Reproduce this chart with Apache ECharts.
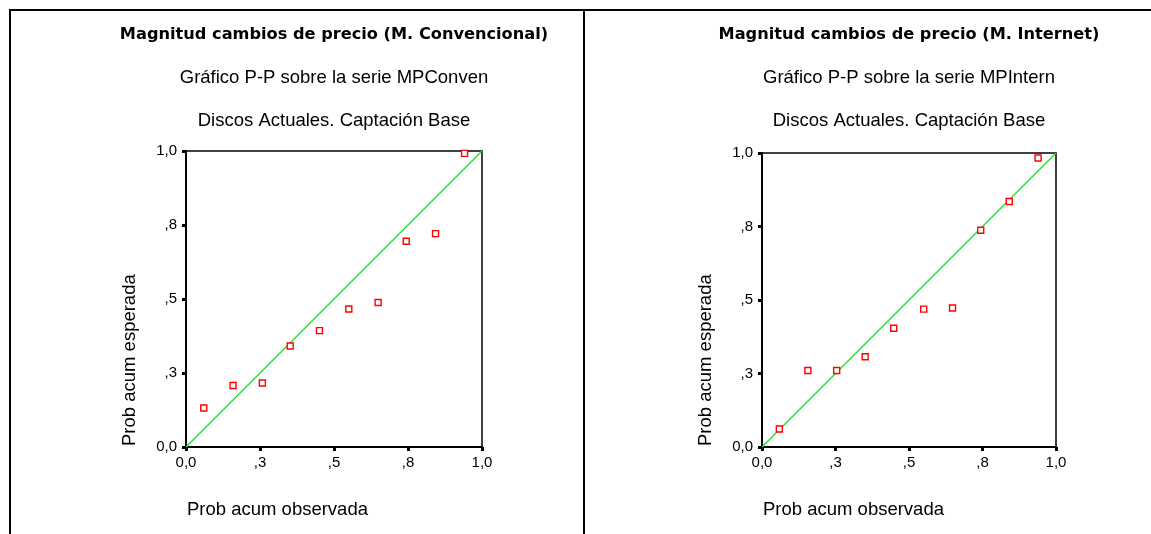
<!DOCTYPE html>
<html>
<head>
<meta charset="utf-8">
<script src="https://cdn.jsdelivr.net/npm/echarts@6/dist/echarts.min.js"></script>
<style>
  html, body { margin: 0; padding: 0; background: #fff; }
  #chart { width: 1151px; height: 534px; }
</style>
</head>
<body>
<div id="chart"></div>
<script>
// tick labels as SPSS prints them (0, .25, .5, .75, 1 rounded to one decimal)
var tickLabels = ['0,0', ',3', ',5', ',8', '1,0'];

// M. Convencional: observed vs expected cumulative probability
var obsConven = [0.060, 0.159, 0.258, 0.352, 0.451, 0.550, 0.649, 0.744, 0.843, 0.941];
var espConven = [0.132, 0.208, 0.216, 0.341, 0.393, 0.466, 0.488, 0.695, 0.721, 0.992];

// M. Internet
var obsIntern = [0.059, 0.156, 0.254, 0.351, 0.448, 0.550, 0.648, 0.744, 0.841, 0.939];
var espIntern = [0.061, 0.260, 0.260, 0.307, 0.404, 0.469, 0.473, 0.737, 0.835, 0.983];

var diagonal = [[0, 0], [1, 1]];

var titles = ['Magnitud cambios de precio (M. Convencional)', 'Magnitud cambios de precio (M. Internet)'];
var subtitles = ['Gráfico P-P sobre la serie MPConven', 'Gráfico P-P sobre la serie MPIntern'];
var caption = 'Discos Actuales. Captación Base';
var xName = 'Prob acum observada';
var yName = 'Prob acum esperada';

var font = 'Liberation Sans, Arial, sans-serif';

function zip(a, b) {
    var out = [];
    for (var i = 0; i < a.length; i++) out.push([a[i], b[i]]);
    return out;
}

var panels = [
    { left: 186, top: 151, size: 296, obs: obsConven, esp: espConven },
    { left: 762, top: 153, size: 294, obs: obsIntern, esp: espIntern }
];

function axis(idx, isY) {
    return {
        type: 'value',
        gridIndex: idx,
        min: 0,
        max: 1,
        interval: 0.25,
        splitLine: { show: false },
        axisLine: { show: true, lineStyle: { color: '#000', width: 2 } },
        axisTick: { show: true, length: 4, lineStyle: { color: '#000', width: 3 } },
        axisLabel: {
            color: '#000',
            fontSize: 15,
            fontFamily: font,
            margin: isY ? 9 : 8,
            formatter: function (v) { return tickLabels[Math.round(v / 0.25)]; }
        }
    };
}

var title = [], grid = [], xAxis = [], yAxis = [], series = [], graphic = [];

panels.forEach(function (p, i) {
    var cx = p.left + p.size / 2;
    title.push({
        text: titles[i], left: cx, top: 35, padding: 0,
        textAlign: 'center', textVerticalAlign: 'middle',
        textStyle: { fontFamily: 'DejaVu Sans', fontWeight: 'bold', fontSize: 16.2, color: '#000' }
    });
    title.push({
        text: subtitles[i], left: cx, top: 78, padding: 0,
        textAlign: 'center', textVerticalAlign: 'middle',
        textStyle: { fontFamily: font, fontWeight: 'normal', fontSize: 18.5, color: '#000' }
    });
    title.push({
        text: caption, left: cx, top: 121, padding: 0,
        textAlign: 'center', textVerticalAlign: 'middle',
        textStyle: { fontFamily: font, fontWeight: 'normal', fontSize: 18.5, color: '#000' }
    });

    grid.push({
        left: p.left, top: p.top, width: p.size, height: p.size,
        show: true, borderColor: '#000', borderWidth: 1.5, backgroundColor: 'transparent'
    });
    xAxis.push(axis(i, false));
    yAxis.push(axis(i, true));

    series.push({
        type: 'line', xAxisIndex: i, yAxisIndex: i,
        data: diagonal, symbol: 'none', silent: true, z: 2,
        lineStyle: { color: '#22dd22', width: 1.2 }
    });
    series.push({
        type: 'scatter', xAxisIndex: i, yAxisIndex: i,
        data: zip(p.obs, p.esp), symbol: 'rect', symbolSize: 6, z: 3,
        itemStyle: { color: '#fff', borderColor: '#ff0000', borderWidth: 1.4, opacity: 1 }
    });

    // axis names: x left-aligned under the plot, y rotated and starting at the plot bottom
    graphic.push({
        type: 'text', x: p.left + 1, y: 510,
        style: { text: xName, font: '18.5px ' + font, fill: '#000', align: 'left', verticalAlign: 'middle' }
    });
    graphic.push({
        type: 'text', x: p.left - 56, y: p.top + p.size - 1, rotation: Math.PI / 2,
        style: { text: yName, font: '18.5px ' + font, fill: '#000', align: 'left', verticalAlign: 'middle' }
    });
});

// panel frame lines
var frame = { stroke: '#000', lineWidth: 2 };
graphic.push({ type: 'line', shape: { x1: 9, y1: 10, x2: 1151, y2: 10 }, style: frame });
graphic.push({ type: 'line', shape: { x1: 10, y1: 9, x2: 10, y2: 534 }, style: frame });
graphic.push({ type: 'line', shape: { x1: 584, y1: 10, x2: 584, y2: 534 }, style: frame });

var chart = echarts.init(document.getElementById('chart'), null, { renderer: 'canvas' });
chart.setOption({
    animation: false,
    backgroundColor: '#fff',
    title: title,
    grid: grid,
    xAxis: xAxis,
    yAxis: yAxis,
    series: series,
    graphic: graphic
});
</script>
</body>
</html>
